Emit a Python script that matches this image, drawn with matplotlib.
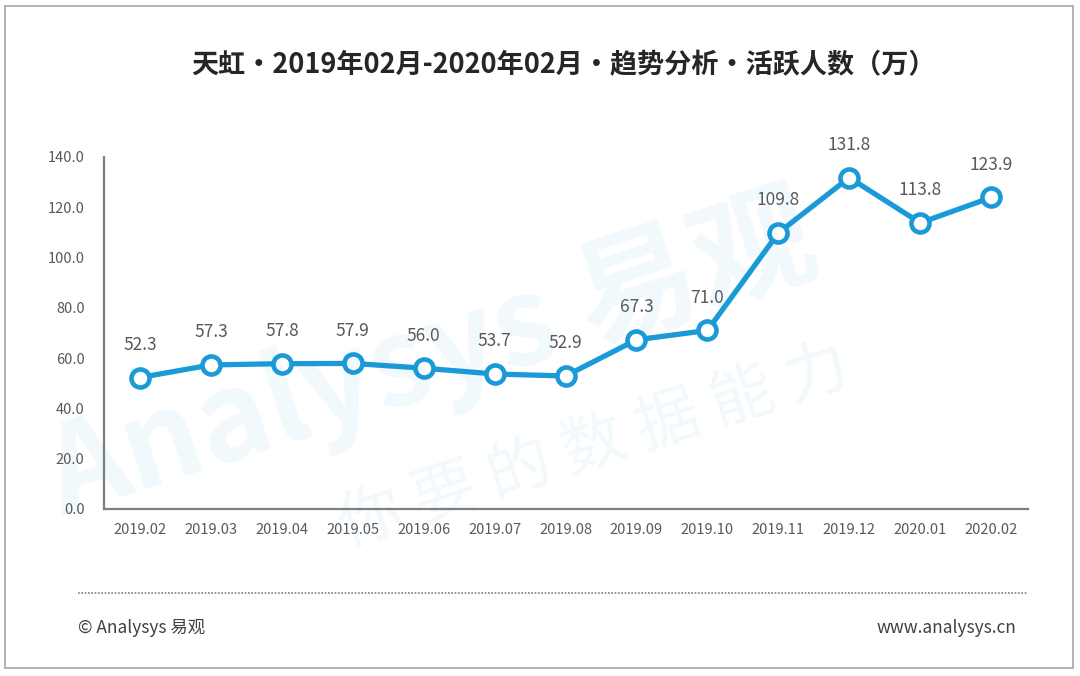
import matplotlib.pyplot as plt
from matplotlib.patches import Rectangle
from matplotlib.lines import Line2D

plt.rcParams['font.family'] = ['Noto Sans CJK SC', 'DejaVu Sans']

# data
months = ['2019.02', '2019.03', '2019.04', '2019.05', '2019.06', '2019.07', '2019.08',
          '2019.09', '2019.10', '2019.11', '2019.12', '2020.01', '2020.02']
active_users = [52.3, 57.3, 57.8, 57.9, 56.0, 53.7, 52.9, 67.3, 71.0, 109.8, 131.8, 113.8, 123.9]
y_ticks = [0, 20, 40, 60, 80, 100, 120, 140]

title = '天虹·2019年02月-2020年02月·趋势分析·活跃人数（万）'
blue = '#1b9ad8'
grey = '#595959'

fig = plt.figure(figsize=(10.8, 6.76), dpi=100)

# outer frame
fig.patches.append(Rectangle((5 / 1080, 8 / 676), 1068 / 1080, 662 / 676, transform=fig.transFigure,
                             fill=False, edgecolor='#a6a6a6', linewidth=1.2))

# faint watermark
fig.text(0.40, 0.47, 'Analysys 易观', fontsize=88, fontweight='bold', color='#1a96d6', alpha=0.06,
         rotation=18, ha='center', va='center')
fig.text(0.55, 0.34, '你 要 的 数 据 能 力', fontsize=46, color='#1a96d6', alpha=0.06,
         rotation=18, ha='center', va='center')

ax = fig.add_axes([104 / 1080, 1 - 509 / 676, (1028 - 104) / 1080, (509 - 157) / 676])
x = range(len(months))
ax.plot(x, active_users, color=blue, linewidth=3.8, marker='o', markersize=13,
        markerfacecolor='white', markeredgecolor=blue, markeredgewidth=3.3, zorder=3)

for i, v in enumerate(active_users):
    ax.annotate(f'{v:.1f}', (i, v), xytext=(0, 23.5), textcoords='offset points',
                ha='center', va='center', fontsize=12.5, color=grey)

ax.set_xlim(-0.507, 12.52)
ax.set_ylim(0, 140)
ax.set_xticks(list(x))
ax.set_xticklabels(months)
ax.set_yticks(y_ticks)
ax.set_yticklabels([f'{t:.1f}' for t in y_ticks])
ax.tick_params(axis='both', length=0, labelsize=10.5, labelcolor=grey)
ax.tick_params(axis='x', pad=10)
ax.tick_params(axis='y', pad=14)
for side in ['top', 'right']:
    ax.spines[side].set_visible(False)
for side in ['left', 'bottom']:
    ax.spines[side].set_color('#7f7f7f')
    ax.spines[side].set_linewidth(1.6)
ax.patch.set_alpha(0)

fig.text(0.522, 1 - 65 / 676, title, fontsize=19.5, fontweight='bold', color='#262626',
         ha='center', va='center')

# footer
fig.add_artist(Line2D([78 / 1080, 1028 / 1080], [1 - 593 / 676, 1 - 593 / 676],
                      transform=fig.transFigure, color='#7f7f7f', linewidth=1.2,
                      linestyle=(0, (1, 1))))
fig.text(78 / 1080, 1 - 628 / 676, '© Analysys 易观', fontsize=12.5, color='#404040',
         ha='left', va='center')
fig.text(1016 / 1080, 1 - 628 / 676, 'www.analysys.cn', fontsize=12.5, color='#404040',
         ha='right', va='center')

fig.savefig('out.png', dpi=100)
